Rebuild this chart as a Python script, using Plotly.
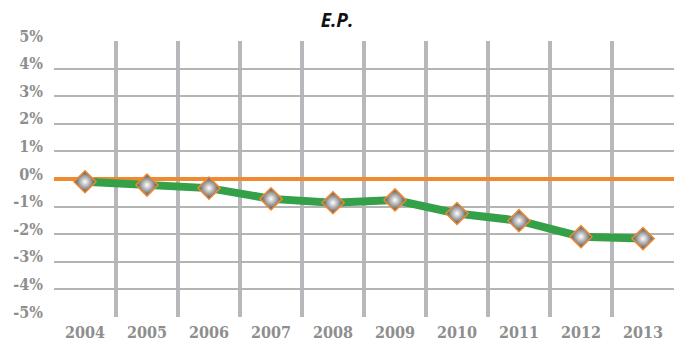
import plotly.graph_objects as go

years = [2004, 2005, 2006, 2007, 2008, 2009, 2010, 2011, 2012, 2013]
ep_values = [-0.10, -0.22, -0.33, -0.72, -0.86, -0.76, -1.25, -1.51, -2.09, -2.16]
y_ticks = [5, 4, 3, 2, 1, 0, -1, -2, -3, -4, -5]
y_tick_labels = [f"{v}%" for v in y_ticks]
grid_rows = [4, 3, 2, 1, -1, -2, -3, -4]
year_bounds = [y + 0.5 for y in years[:-1]]

label_font = dict(family="DejaVu Serif Condensed, Liberation Serif, serif",
                  size=16, color="#8e8e8e", weight="bold")

fig = go.Figure()
fig.add_trace(go.Scatter(
    x=years, y=ep_values, mode="lines+markers",
    line=dict(color="#34a047", width=8),
    marker=dict(symbol="diamond", size=17, color="#4a4a4a",
                gradient=dict(type="radial", color="#ffffff"),
                line=dict(color="#f08a30", width=1.5)),
    hoverinfo="x+y", showlegend=False,
))

fig.update_layout(
    width=674, height=342,
    margin=dict(l=54, r=0, t=41, b=23),
    paper_bgcolor="white", plot_bgcolor="white",
    title=dict(text="<b><i>E.P.</i></b>", x=0.5, xanchor="center",
               y=0.94, yanchor="middle",
               font=dict(family="Open Sans, Liberation Sans, sans-serif",
                         size=19, color="#111111")),
    xaxis=dict(range=[2003.5, 2013.5], tickmode="array", tickvals=years,
               ticktext=[str(y) for y in years], showgrid=False,
               zeroline=False, showline=False, ticks="",
               ticklabelstandoff=4,
               tickfont=label_font,
               minor=dict(tickmode="array", tickvals=year_bounds,
                          showgrid=True, gridcolor="#b8b8bc", gridwidth=3.5,
                          ticks="")),
    yaxis=dict(range=[-5, 5], tickmode="array", tickvals=y_ticks,
               ticktext=y_tick_labels, showgrid=False,
               zeroline=True, zerolinecolor="#f08a30", zerolinewidth=4,
               showline=False, ticks="", ticklabelstandoff=10,
               ticklabelshift=-5,
               tickfont=label_font,
               minor=dict(tickmode="array", tickvals=grid_rows,
                          showgrid=True, gridcolor="#b4b4b4", gridwidth=1.5,
                          ticks="")),
)

fig.write_html("out.html")
